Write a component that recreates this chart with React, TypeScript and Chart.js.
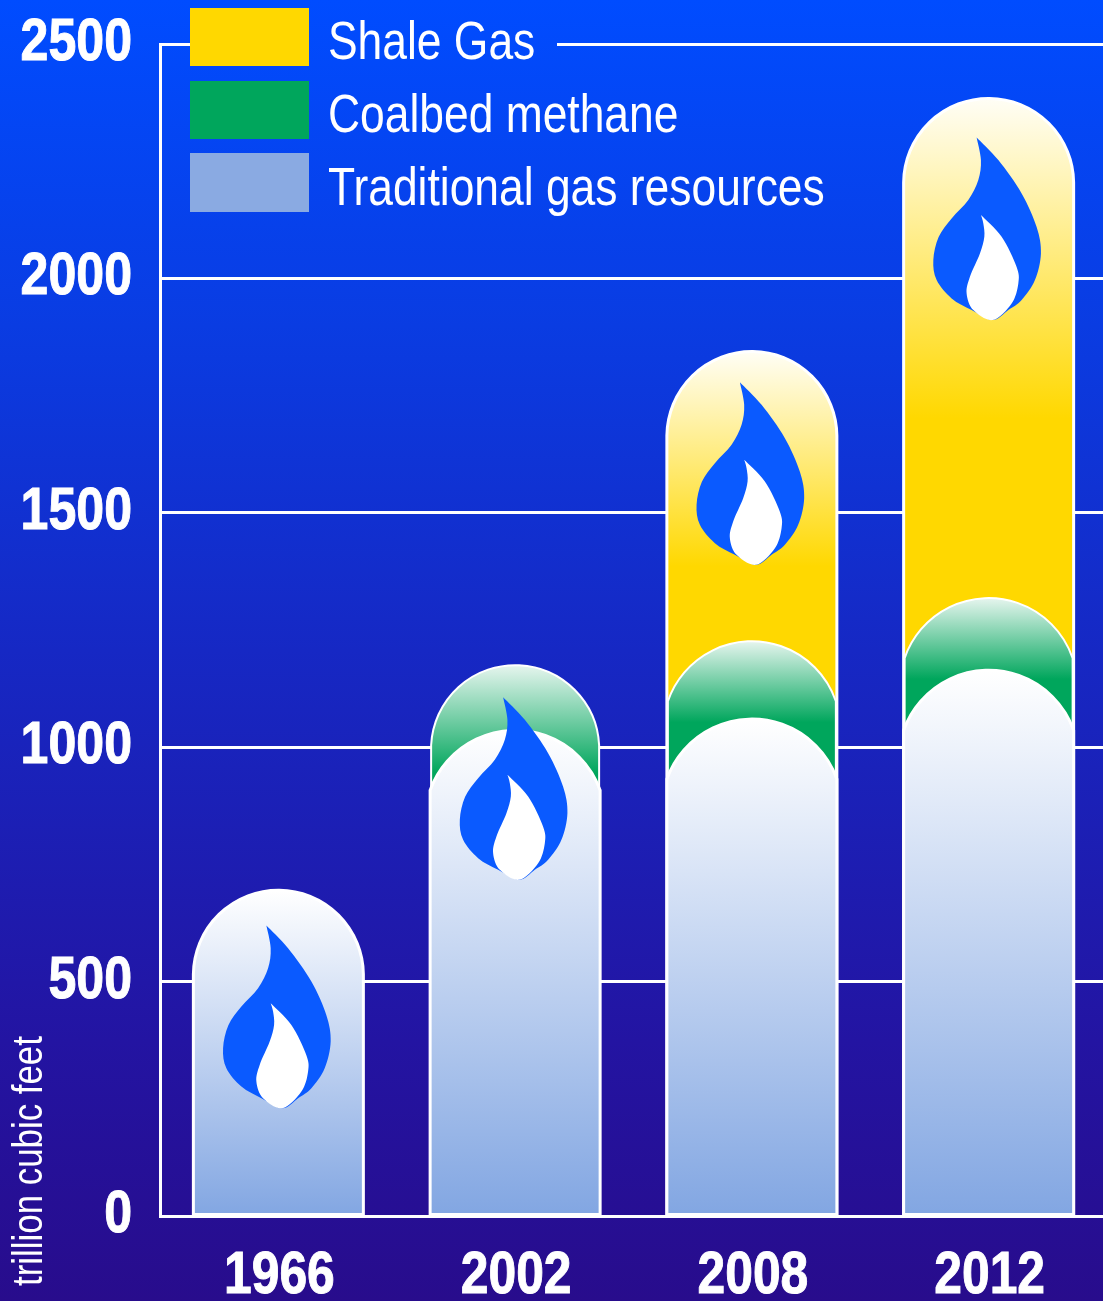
import React, { useEffect, useRef } from "react";
import { Chart, registerables, BarController, BarElement } from "chart.js";

Chart.register(...registerables);

const years = ["1966", "2002", "2008", "2012"];
const traditionalGas = [695, 1036, 1060, 1164];
const coalbedMethane = [null, 139, 166, 154];
const shaleGas = [null, null, 618, 1066];
const yTicks = [0, 500, 1000, 1500, 2000, 2500];
const flameBase = [230, 717, 1389, 1911];
const traditionalArch = [84, 60, 60, 60];
const coalbedArch = [84, 80, 60, 60];
const shaleArch = [84, 84, 84, 84];
const legendItems = ["Shale Gas", "Coalbed methane", "Traditional gas resources"];
const legendColors = ["#ffd800", "#00a65c", "#8aaae2"];
const axisTitle = "trillion cubic feet";

const SANS = '"Liberation Sans", Arial, sans-serif';

// flame silhouette, relative to its lowest point
const flameOuter: [number, number][] = [
  [-16, -182.7], [5.7, -160], [29, -126.7], [44, -93], [48.3, -66.7], [42.3, -40], [29, -20], [15.7, -10], [0, 0],
  [-21, -10], [-41, -21.7], [-56, -40], [-59.3, -60], [-54, -83], [-41, -101.7], [-24.3, -120], [-14.3, -140], [-11.7, -160], [-16, -182.7],
];
const flameInner: [number, number][] = [
  [-11.7, -105], [9, -83.3], [24, -53], [25.7, -36.7], [19, -16.7], [0, 0],
  [-19.3, -10], [-26, -26.7], [-22.7, -43.3], [-12.7, -66.7], [-8.3, -83.3], [-9.3, -96.7], [-11.7, -105],
];

const sum = (a: (number | null)[], b: (number | null)[]) =>
  a.map((v, i) => (b[i] == null ? null : (v ?? 0) + (b[i] as number)));
const coalTop = sum(traditionalGas, coalbedMethane);
const shaleTop = shaleGas.map((v, i) =>
  v == null ? null : (coalTop[i] ?? traditionalGas[i]) + v
);

class ArchBar extends BarElement {
  draw(ctx: CanvasRenderingContext2D) {
    const { x, y, base, width } = (this as any).getProps(["x", "y", "base", "width"]);
    const o = (this as any).options;
    const hw = width / 2;
    const h = o.archHeight;
    const R = (hw * hw + h * h) / (2 * h);
    const theta = Math.atan2(hw, R - h);
    ctx.save();
    ctx.beginPath();
    ctx.moveTo(x - hw, base);
    ctx.arc(x, y + R, R, -Math.PI / 2 - theta, -Math.PI / 2 + theta);
    ctx.lineTo(x + hw, base);
    ctx.closePath();
    ctx.fillStyle = o.backgroundColor;
    ctx.fill();
    ctx.lineWidth = o.borderWidth;
    ctx.strokeStyle = o.borderColor;
    ctx.stroke();
    ctx.restore();
  }
}
(ArchBar as any).id = "archBar";
(ArchBar as any).defaults = { ...(BarElement as any).defaults, archHeight: 84 };

class ArchController extends BarController {}
(ArchController as any).id = "arch";
(ArchController as any).defaults = { ...(BarController as any).defaults, dataElementType: "archBar" };

Chart.register(ArchBar as any, ArchController as any);

function pageGradient(ctx: CanvasRenderingContext2D, h: number) {
  const g = ctx.createLinearGradient(0, 0, 0, h);
  g.addColorStop(0, "#004cff");
  g.addColorStop(0.25, "#0a3ce2");
  g.addColorStop(0.5, "#1628c4");
  g.addColorStop(0.8, "#2314a2");
  g.addColorStop(1, "#280c8c");
  return g;
}

function spline(ctx: CanvasRenderingContext2D, pts: [number, number][], x: number, y: number, color: string) {
  ctx.fillStyle = color;
  ctx.beginPath();
  ctx.moveTo(x + pts[0][0], y + pts[0][1]);
  for (let i = 0; i < pts.length - 1; i++) {
    const p0 = pts[Math.max(i - 1, 0)];
    const p1 = pts[i];
    const p2 = pts[i + 1];
    const p3 = pts[Math.min(i + 2, pts.length - 1)];
    ctx.bezierCurveTo(
      x + p1[0] + (p2[0] - p0[0]) / 6,
      y + p1[1] + (p2[1] - p0[1]) / 6,
      x + p2[0] - (p3[0] - p1[0]) / 6,
      y + p2[1] - (p3[1] - p1[1]) / 6,
      x + p2[0],
      y + p2[1]
    );
  }
  ctx.closePath();
  ctx.fill();
}

function narrowText(ctx: CanvasRenderingContext2D, text: string, x: number, y: number, sx: number, align: CanvasTextAlign, heavy = false) {
  ctx.save();
  ctx.translate(x, y);
  ctx.scale(sx, 1);
  ctx.textAlign = align;
  ctx.textBaseline = "alphabetic";
  ctx.fillText(text, 0, 0);
  if (heavy) {
    ctx.strokeStyle = "#ffffff";
    ctx.lineWidth = 1;
    ctx.strokeText(text, 0, 0);
  }
  ctx.restore();
}

const decorPlugin = {
  id: "decor",
  beforeDraw(chart: any) {
    const { ctx, height, width } = chart;
    ctx.save();
    ctx.fillStyle = pageGradient(ctx, height);
    ctx.fillRect(0, 0, width, height);
    ctx.restore();
  },
  beforeDatasetsDraw(chart: any) {
    const { ctx, height, scales } = chart;
    ctx.save();
    // gap in the top rule behind the legend
    ctx.fillStyle = pageGradient(ctx, height);
    ctx.fillRect(309, 30, 248, 30);
    // legend
    const swatchTops = [8, 81, 153];
    const baselines = [59, 132, 205];
    legendItems.forEach((label, i) => {
      ctx.fillStyle = legendColors[i];
      ctx.fillRect(190, swatchTops[i], 119, i === 2 ? 59 : 58);
      ctx.fillStyle = "#ffffff";
      ctx.font = `54px ${SANS}`;
      narrowText(ctx, label, 328, baselines[i], 0.822, "left");
    });
    // tick labels, condensed like the original face
    ctx.fillStyle = "#ffffff";
    ctx.font = `bold 60px ${SANS}`;
    scales.y.ticks.forEach((t: any) => {
      narrowText(ctx, String(t.value), 132, scales.y.getPixelForValue(t.value) + 16, 0.835, "right", true);
    });
    years.forEach((label, i) => {
      narrowText(ctx, label, scales.x.getPixelForValue(i) + 1, 1293, 0.83, "center", true);
    });
    // axis title
    ctx.translate(42, 1286);
    ctx.rotate(-Math.PI / 2);
    ctx.font = `42px ${SANS}`;
    narrowText(ctx, axisTitle, 0, 0, 0.83, "left");
    ctx.restore();
  },
  afterDatasetsDraw(chart: any) {
    const { ctx, scales } = chart;
    ctx.save();
    flameBase.forEach((v, i) => {
      const px = scales.x.getPixelForValue(i) + 4;
      const py = scales.y.getPixelForValue(v);
      spline(ctx, flameOuter, px, py, "#0a5aff");
      spline(ctx, flameInner, px, py, "#ffffff");
    });
    ctx.restore();
  },
};

function grad(
  ctx: any,
  topColor: string,
  endColor: string,
  endFn: (top: number, base: number) => number
) {
  const chart = ctx.chart;
  if (!chart.chartArea || ctx.raw == null) return endColor;
  const top = chart.scales.y.getPixelForValue(ctx.raw);
  const base = chart.scales.y.getPixelForValue(0);
  const g = chart.ctx.createLinearGradient(0, top, 0, endFn(top, base));
  g.addColorStop(0, topColor);
  g.addColorStop(1, endColor);
  return g;
}

export default function App() {
  const ref = useRef<HTMLCanvasElement>(null);
  useEffect(() => {
    document.body.style.margin = "0";
    const chart = new Chart(ref.current as HTMLCanvasElement, {
      type: "arch" as any,
      data: {
        labels: years,
        datasets: [
          {
            label: legendItems[0],
            data: shaleTop,
            order: 3,
            grouped: false,
            barThickness: 170,
            borderWidth: 3,
            borderColor: "#ffffff",
            archHeight: (c: any) => shaleArch[c.dataIndex],
            backgroundColor: (c: any) => {
              const coalPx = c.chart.chartArea ? c.chart.scales.y.getPixelForValue(coalTop[c.dataIndex] ?? 0) : 0;
              return grad(c, "#fffef6", "#ffd800", (t) => t + 70 + 0.5 * (coalPx - t));
            },
          },
          {
            label: legendItems[1],
            data: coalTop,
            order: 2,
            grouped: false,
            barThickness: 168,
            borderWidth: 2,
            borderColor: "#ffffff",
            archHeight: (c: any) => coalbedArch[c.dataIndex],
            backgroundColor: (c: any) =>
              grad(c, "#e6f5ee", "#00a65c", (t) => t + coalbedArch[c.dataIndex] * 1.35),
          },
          {
            label: legendItems[2],
            data: traditionalGas,
            order: 1,
            grouped: false,
            barThickness: 170,
            borderWidth: 3,
            borderColor: "#ffffff",
            archHeight: (c: any) => traditionalArch[c.dataIndex],
            backgroundColor: (c: any) => grad(c, "#ffffff", "#82a6e2", (_t, b) => b),
          },
        ] as any,
      },
      options: {
        animation: false,
        responsive: false,
        layout: { padding: { top: 44, left: 0, right: 0, bottom: 0 } },
        plugins: { legend: { display: false }, tooltip: { enabled: false } },
        scales: {
          x: {
            type: "category",
            afterFit: (s: any) => {
              s.height = 85;
            },
            grid: { display: false, drawTicks: false },
            border: { color: "#ffffff", width: 3 },
            ticks: { display: false },
          },
          y: {
            type: "linear",
            min: 0,
            max: 2500,
            afterFit: (s: any) => {
              s.width = 160;
            },
            afterBuildTicks: (s: any) => {
              s.ticks = yTicks.map((value) => ({ value }));
            },
            grid: { color: "#ffffff", lineWidth: 3, drawTicks: false },
            border: { color: "#ffffff", width: 3 },
            ticks: { display: false },
          },
        },
      } as any,
      plugins: [decorPlugin as any],
    });
    return () => chart.destroy();
  }, []);
  return (
    <div style={{ width: 1103, height: 1301, overflow: "hidden" }}>
      <canvas ref={ref} width={1107} height={1301} style={{ display: "block" }} />
    </div>
  );
}
